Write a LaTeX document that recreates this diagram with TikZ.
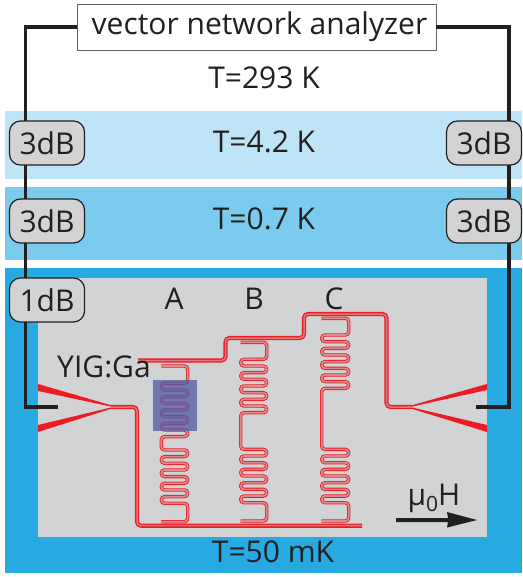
\documentclass[tikz,border=0pt]{standalone}
\usepackage{fontspec}
\setmainfont{Open Sans}
\usetikzlibrary{arrows.meta}
\definecolor{bandA}{HTML}{BDE5F7}
\definecolor{bandB}{HTML}{7BCBEE}
\definecolor{bandC}{HTML}{27AAE1}
\definecolor{chip}{HTML}{D1D3D4}
\definecolor{cpw}{HTML}{ED1C24}
\definecolor{ink}{HTML}{231F20}
\definecolor{yig}{HTML}{4F5AA6}
\tikzset{
  cable/.style={draw=ink,line width=3.2pt,line join=miter},
  atten/.style={draw=ink,fill=chip,line width=1.2pt,rounded corners=11pt,minimum width=75pt,minimum height=44pt,inner sep=0pt,text=ink,font=\fontsize{30}{33}\selectfont},
  lab/.style={text=ink,inner sep=0pt,font=\fontsize{30}{33}\selectfont},
  feed/.style={draw=cpw,double=cpw!50!chip,line width=1.3pt,double distance=1.5pt,rounded corners=4pt},
  reso/.style={draw=cpw,double=cpw!40!chip,line width=.85pt,double distance=1.7pt,rounded corners=3.3pt},
}
% #1 left x, #2 right x, #3 stub y, #4 first finger y, #5 drop below upper comb, #6 bottom y
\newcommand{\meanderpath}[6]{%
  \pgfmathsetmacro{\mw}{#2-#1}
  \draw[reso] (#1,#3) -- (#2,#3) -- (#2,#4) -- (#1,#4)
    -- ++(0,6.67) -- ++(\mw,0) -- ++(0,6.67) -- ++(-\mw,0)
    -- ++(0,6.67) -- ++(\mw,0) -- ++(0,6.67) -- ++(-\mw,0)
    -- ++(0,6.67) -- ++(\mw,0) -- ++(0,6.67) -- ++(-\mw,0)
    -- ++(0,6.67) -- ++(\mw,0) -- ++(0,6.67) -- ++(-\mw,0)
    -- ++(0,#5) -- ++(\mw,0) -- ++(0,6.67) -- ++(-\mw,0)
    -- ++(0,6.67) -- ++(\mw,0) -- ++(0,6.67) -- ++(-\mw,0)
    -- ++(0,6.67) -- ++(\mw,0) -- ++(0,6.67) -- ++(-\mw,0)
    -- ++(0,6.67) -- ++(\mw,0) -- ++(0,6.67) -- ++(-\mw,0)
    -- ++(0,6.67) -- ++(\mw,0) -- (#2,#6) -- (#1,#6);
}
\begin{document}
\begin{tikzpicture}[x=1pt,y=-1pt]
\useasboundingbox (0,0) rectangle (522,577);
\fill[white] (0,0) rectangle (522,577);
\fill[bandA] (5,111) rectangle (522,179);
\fill[bandB] (5,187) rectangle (522,260);
\fill[bandC] (5,268) rectangle (522,573);
\fill[chip] (38,278) rectangle (487,537);

% launchers
\fill[cpw] (38,384) -- (113,405.8) -- (113,407) -- (38,391) -- cycle;
\fill[cpw] (38,425) -- (113,407) -- (113,408.2) -- (38,432) -- cycle;
\fill[cpw] (487,384) -- (410,405.8) -- (410,407) -- (487,390) -- cycle;
\fill[cpw] (487,425) -- (410,407) -- (410,408.2) -- (487,432) -- cycle;

% resonators
\meanderpath{161.3}{187.7}{366}{383.3}{13.3}{521.7}
\meanderpath{240.7}{266.7}{342.3}{359.3}{36.7}{521}
\meanderpath{321.7}{348.7}{318.3}{335}{61}{521}

% feed lines
\coordinate (lt) at (111,407);
\coordinate (rt) at (412,407);
\draw[feed] (lt) -- (137,407) -- (137,525.7) -- (362,525.7);
\draw[feed] (138,360.5) -- (225.5,360.5) -- (225.5,338) -- (304,338) -- (304,314) -- (386.5,314) -- (386.5,407) -- (rt);

% YIG film
\fill[yig,opacity=.75] (153,380) rectangle (197,431);

% instrument and attenuators
\node[draw=ink!70,fill=white,line width=.9pt,minimum width=359pt,minimum height=46pt,inner sep=0pt,text=ink,font=\fontsize{30}{33}\selectfont] (vna) at (256.5,27) {\hspace{6pt}vector network analyzer};
\node[atten] (a1) at (47,143) {3dB};
\node[atten] (a2) at (47,221) {3dB};
\node[atten] (a3) at (47,300) {1dB};
\node[atten] (b1) at (484,143) {3dB};
\node[atten] (b2) at (484,221) {3dB};

\coordinate (a1t) at (25.5,121);
\coordinate (a1b) at (25.5,165);
\coordinate (a2t) at (25.5,199);
\coordinate (a2b) at (25.5,243);
\coordinate (a3t) at (25.5,278);
\coordinate (a3b) at (25.5,322);
\coordinate (lc) at (25.5,407);
\coordinate (ls) at (58,407);
\coordinate (b1t) at (509,121);
\coordinate (b1b) at (509,165);
\coordinate (b2t) at (509,199);
\coordinate (b2b) at (509,243);
\coordinate (rc) at (509,407);
\coordinate (rs) at (476,407);
\draw[cable] (vna.west) -| (a1t);
\draw[cable] (a1b) -- (a2t);
\draw[cable] (a2b) -- (a3t);
\draw[cable] (a3b) -- (lc) -- (ls);
\draw[cable] (vna.east) -| (b1t);
\draw[cable] (b1b) -- (b2t);
\draw[cable] (b2b) -- (rc) -- (rs);

% labels
\node[lab] (t1) at (264,78) {T=293 K};
\node[lab] (t2) at (264,142) {T=4.2 K};
\node[lab] (t3) at (264,219) {T=0.7 K};
\node[lab] (t4) at (273,552) {T=50 mK};
\node[lab] (la) at (174,299) {A};
\node[lab] (lb) at (254,299) {B};
\node[lab] (lc2) at (334,299) {C};
\node[lab] (ly) at (104,367) {YIG:Ga};
\node[lab] (mu) at (434,498) {µ\raisebox{-.22em}{\fontsize{21}{22}\selectfont 0}H};

% field arrow
\fill[ink] (396,518) -- (448,518) -- (447,512) -- (477,520) -- (447,527.5) -- (448,522) -- (396,522) -- cycle;
\end{tikzpicture}
\end{document}
